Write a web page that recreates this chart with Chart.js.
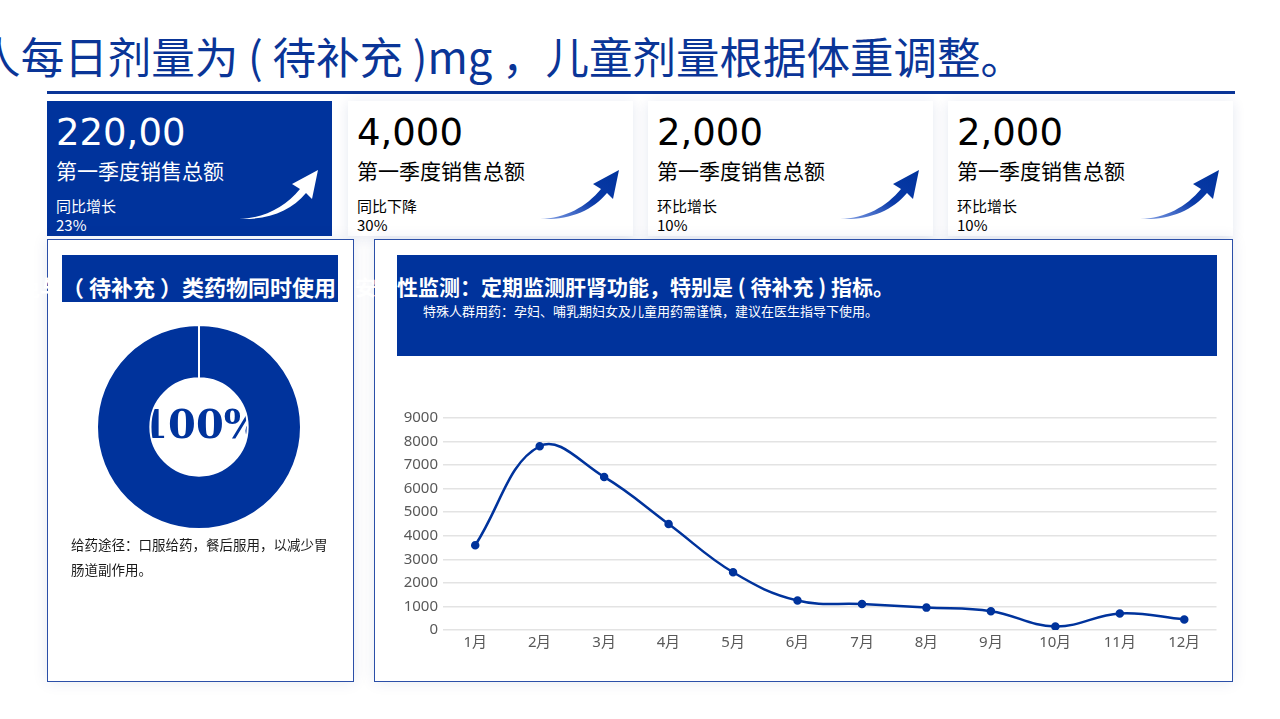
<!DOCTYPE html>
<html lang="zh-CN">
<head>
<meta charset="UTF-8">
<title>用药说明</title>
<script src="https://cdn.jsdelivr.net/npm/chart.js@4.4.1/dist/chart.umd.min.js"></script>
<style>
    html, body { margin: 0; padding: 0; background: #fff; }
    body { width: 1280px; height: 719px; position: relative; overflow: hidden;
           font-family: "Noto Sans CJK SC", "Noto Sans", sans-serif; }
    .abs { position: absolute; white-space: nowrap; }
    .title { top: 28px; right: 256px; font-size: 43.5px; color: #0a3597; line-height: 56px; }
    .rule { left: 47px; top: 91px; width: 1188px; height: 3px; background: #0a3597; }
    .card { top: 101px; width: 285px; height: 135px; background: #fff;
            box-shadow: 0 2px 12px rgba(20, 50, 130, 0.11); }
    .card.main { background: #00339c; color: #fff; box-shadow: none; }
    .card .num { position: absolute; left: 9px; top: 10px; font-family: "DejaVu Sans", sans-serif;
                 font-size: 37px; line-height: 44px; }
    .card .lbl { position: absolute; left: 9px; top: 55px; font-size: 21px; line-height: 28px; }
    .card .sub { position: absolute; left: 9px; top: 95px; font-size: 15px; line-height: 19px; }
    .card svg { position: absolute; left: 192px; top: 68px; }
    .panel { top: 239px; height: 443px; border: 1.5px solid #2b4fa8; background: #fff;
             box-shadow: 0 0 14px rgba(20, 50, 130, 0.10); box-sizing: border-box; }
    .hdr { background: #00339c; }
    .hdr-text { font-size: 21px; font-weight: bold; color: #fff; line-height: 28px; }
    .note { left: 71px; top: 532px; font-size: 13.5px; line-height: 25px; color: #1a1a1a; }
</style>
</head>
<body>

<div class="abs title">成人每日剂量为 ( 待补充 )mg ，儿童剂量根据体重调整。</div>
<div class="abs rule"></div>

<div id="cards"></div>

<div class="abs panel" style="left:47px; width:307px;"></div>
<div class="abs panel" style="left:374px; width:859px;"></div>

<div class="abs hdr" style="left:62px; top:255px; width:276px; height:47px;"></div>
<div class="abs hdr" style="left:397px; top:255px; width:820px; height:101px;"></div>
<div class="abs hdr-text" style="right:944px; top:272px; font-size:22px;">避免与（ 待补充 ）类药物同时使用</div>
<div class="abs hdr-text" style="right:386px; top:272px;">安全性监测：定期监测肝肾功能，特别是 ( 待补充 ) 指标。</div>
<div class="abs" style="left:423px; top:302px; font-size:13px; color:#fff; line-height:18px;">特殊人群用药：孕妇、哺乳期妇女及儿童用药需谨慎，建议在医生指导下使用。</div>

<div class="abs" style="left:89px; top:317px; width:220px; height:220px;"><canvas id="donutChart"></canvas></div>
<div class="abs note">给药途径：口服给药，餐后服用，以减少胃<br>肠道副作用。</div>

<div class="abs" style="left:398px; top:400px; width:825px; height:270px;"><canvas id="lineChart"></canvas></div>

<script>
// --- DATA ---
const months = ['1月', '2月', '3月', '4月', '5月', '6月', '7月', '8月', '9月', '10月', '11月', '12月'];
const monthlyValues = [3600, 7800, 6500, 4500, 2450, 1250, 1100, 950, 800, 150, 700, 450];

const donutLabels = ['完成'];
const donutValues = [100];
const donutCenterText = '100%';

const cardNumbers = ['220,00', '4,000', '2,000', '2,000'];
const cardLabels = ['第一季度销售总额', '第一季度销售总额', '第一季度销售总额', '第一季度销售总额'];
const cardTrends = ['同比增长', '同比下降', '环比增长', '环比增长'];
const cardRates = ['23%', '30%', '10%', '10%'];
const cardLefts = [47, 348, 648, 948];

const BLUE = '#00339c';

// --- KPI CARDS ---
function arrowSvg(idx, white) {
    const fill = white ? '#ffffff' : `url(#arrowGrad${idx})`;
    return `
    <svg width="82" height="52" viewBox="0 0 82 52">
      <defs>
        <linearGradient id="arrowGrad${idx}" x1="0" y1="1" x2="1" y2="0">
          <stop offset="0" stop-color="#2a5bd0" stop-opacity="0.6"/>
          <stop offset="0.5" stop-color="#0a3aa8"/>
          <stop offset="1" stop-color="#00339c"/>
        </linearGradient>
      </defs>
      <path d="M0,50 C26,49 46,38 61,20 L53,15 L79,1 L73,30 L67,24 C52,42 30,51 0,50 Z" fill="${fill}"/>
    </svg>`;
}

function renderCards() {
    const wrap = document.getElementById('cards');
    wrap.innerHTML = cardNumbers.map((num, i) => `
      <div class="abs card ${i === 0 ? 'main' : ''}" style="left:${cardLefts[i]}px;">
        <div class="num">${num}</div>
        <div class="lbl">${cardLabels[i]}</div>
        <div class="sub">${cardTrends[i]}<br>${cardRates[i]}</div>
        ${arrowSvg(i, i === 0)}
      </div>
    `).join('');
}

// --- DONUT ---
// center text is drawn before the ring so the ring covers its edges
const centerTextPlugin = {
    id: 'centerText',
    beforeDatasetsDraw(chart) {
        const { ctx, chartArea } = chart;
        ctx.save();
        ctx.font = 'bold 40px "DejaVu Serif"';
        ctx.fillStyle = BLUE;
        ctx.textAlign = 'center';
        ctx.textBaseline = 'middle';
        ctx.fillText(donutCenterText, (chartArea.left + chartArea.right) / 2 + 2, (chartArea.top + chartArea.bottom) / 2 + 1);
        ctx.restore();
    }
};

function renderDonut() {
    new Chart(document.getElementById('donutChart'), {
        type: 'doughnut',
        data: {
            labels: donutLabels,
            datasets: [{
                data: donutValues,
                backgroundColor: [BLUE],
                borderColor: '#ffffff',
                borderWidth: 2
            }]
        },
        options: {
            responsive: true,
            maintainAspectRatio: false,
            animation: false,
            radius: 102,
            cutout: 52,
            plugins: { legend: { display: false }, tooltip: { enabled: false } }
        },
        plugins: [centerTextPlugin]
    });
}

// --- LINE CHART ---
function renderLine() {
    const tickFont = { family: '"Noto Sans", sans-serif', size: 15 };
    new Chart(document.getElementById('lineChart'), {
        type: 'line',
        data: {
            labels: months,
            datasets: [{
                data: monthlyValues,
                borderColor: BLUE,
                backgroundColor: BLUE,
                borderWidth: 2.5,
                pointRadius: 3,
                pointBackgroundColor: BLUE,
                tension: 0.4,
                fill: false
            }]
        },
        options: {
            responsive: true,
            maintainAspectRatio: false,
            animation: false,
            layout: { padding: { top: 18 } },
            plugins: { legend: { display: false }, tooltip: { enabled: false } },
            scales: {
                x: {
                    offset: true,
                    grid: { display: false, drawTicks: false },
                    border: { display: false },
                    ticks: { color: '#595959', font: tickFont, padding: 4, maxRotation: 0 },
                    afterFit: (scale) => { scale.height = 40; }
                },
                y: {
                    min: 0,
                    max: 9000,
                    ticks: { stepSize: 1000, color: '#595959', font: tickFont, padding: 5,
                             callback: (v) => String(v) },
                    grid: { color: '#e3e3e3', lineWidth: 1.5, drawTicks: false },
                    border: { display: false },
                    afterFit: (scale) => { scale.width = 45; }
                }
            }
        }
    });
}

renderCards();
renderDonut();
renderLine();
</script>
</body>
</html>
